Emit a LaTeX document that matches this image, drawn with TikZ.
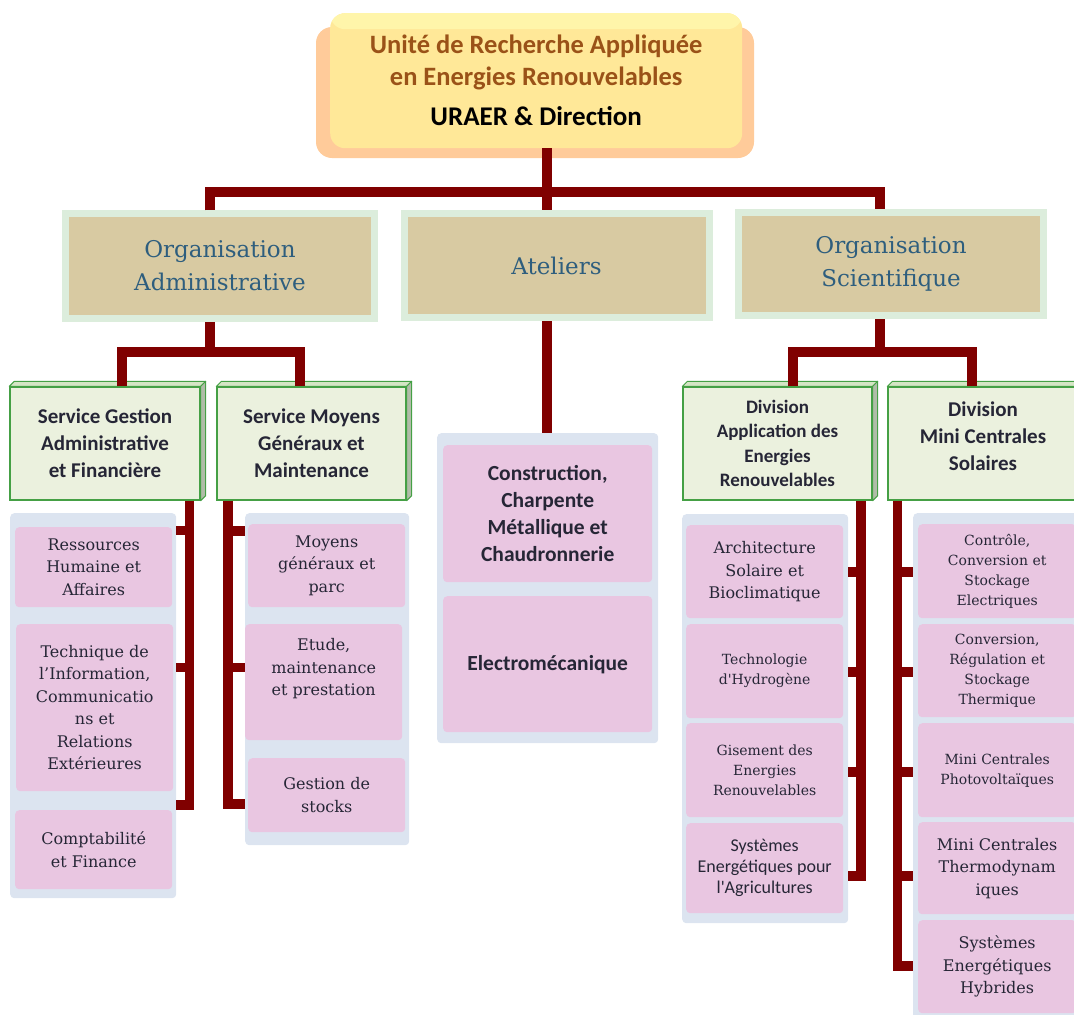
\documentclass[tikz,border=0pt]{standalone}
\usepackage{fontspec}
\setmainfont{DejaVu Serif}
\newfontfamily\carl{Carlito}
\newfontfamily\carlplain{Carlito}[Ligatures=TeXOff]
\newfontfamily\serifplain{DejaVu Serif}[Ligatures=TeXOff]
\usetikzlibrary{calc}
\definecolor{cred}{HTML}{800000}
\definecolor{tanc}{HTML}{D8CAA2}
\definecolor{framec}{HTML}{DCEDDC}
\definecolor{ltxt}{HTML}{2E5E7E}
\definecolor{gfill}{HTML}{EBF1DE}
\definecolor{gline}{HTML}{45A045}
\definecolor{gtop}{HTML}{D5E5C5}
\definecolor{gside}{HTML}{B0BCA8}
\definecolor{panelc}{HTML}{DCE4F0}
\definecolor{pinkc}{HTML}{E9C6E1}
\definecolor{peach}{HTML}{FFCB9A}
\definecolor{yellowc}{HTML}{FFE898}
\definecolor{yellowl}{HTML}{FFF5AA}
\definecolor{brownt}{HTML}{9A5218}
\definecolor{txtdark}{HTML}{262636}
\newcommand\boxfaces[1]{%
  \filldraw[fill=gtop, draw=gline, line width=1pt, line join=round] (#1.north west) -- ++(5,-5) -- ($(#1.north east)+(5,-5)$) -- (#1.north east) -- cycle;
  \filldraw[fill=gside, draw=gline, line width=1pt, line join=round] (#1.north east) -- ++(5,-5) -- ($(#1.south east)+(5,-5)$) -- (#1.south east) -- cycle;}
\begin{document}
\begin{tikzpicture}[x=1pt,y=-1pt,
  conn/.style={draw=cred, line width=10pt},
  trunk/.style={draw=cred, line width=9.5pt},
  lvtwo/.style={fill=tanc, draw=framec, line width=7pt, inner sep=0pt, align=center, text=ltxt, font=\fontsize{23}{33}\selectfont},
  lvthree/.style={fill=gfill, draw=gline, line width=1.3pt, inner sep=0pt, align=center, text=txtdark, minimum width=190, minimum height=113, font=\carl\bfseries\fontsize{21}{27}\selectfont},
  panelbox/.style={fill=panelc, rounded corners=4pt, anchor=north west, inner sep=0pt},
  itembox/.style={fill=pinkc, rounded corners=4pt, inner sep=0pt, align=center, text=txtdark, anchor=north west, font=\fontsize{16}{22.5}\selectfont},
  smallitem/.style={font=\fontsize{14}{20}\selectfont},
  boldsans/.style={font=\carl\bfseries\fontsize{21.5}{27}\selectfont}
]
\useasboundingbox (0,0) rectangle (1074,1015);
\clip (0,0) rectangle (1074,1015);

% ---- top box
\fill[peach, rounded corners=16pt] (316,27) rectangle (754,158);
\node[fill=yellowc, rounded corners=15pt, anchor=north west, minimum width=412, minimum height=135, inner sep=0pt, align=center,
  path picture={\fill[yellowl] (path picture bounding box.north west) rectangle ($(path picture bounding box.north east)+(0,16)$);},
  font=\carl\bfseries\fontsize{26.5}{32}\selectfont] (top) at (330,13)
  {\textcolor{brownt}{Unité de Recherche Appliquée}\\\textcolor{brownt}{en Energies Renouvelables}\\[8pt]{\fontsize{27}{32}\selectfont URAER \& Direction}};

% ---- level 2
\node[lvtwo, minimum width=309.5, minimum height=104.5] (orgadm) at (220,266) {Organisation\\Administrative};
\node[lvtwo, minimum width=305, minimum height=104] (atel) at (556.5,265.5) {Ateliers};
\node[lvtwo, minimum width=305.5, minimum height=103] (orgsci) at (891,264) {Organisation\\Scientifique};

% ---- level 3
\node[lvthree] (sgaf) at (105,443.5) {Service Gestion\\Administrative\\et Financière};
\node[lvthree, minimum width=189] (smgm) at (311.5,443.5) {Service Moyens\\Généraux et\\Maintenance};
\node[lvthree, minimum width=189, font=\carl\bfseries\fontsize{19}{24.5}\selectfont] (daer) at (777.5,443.5) {Division\\Application des\\Energies\\Renouvelables};
\node[lvthree] (dmcs) at (983,443.5) {Division\\Mini Centrales\\Solaires\\[-12pt]\mbox{}};
\boxfaces{sgaf}
\boxfaces{smgm}
\boxfaces{daer}
\boxfaces{dmcs}

% ---- panel A
\node[panelbox, minimum width=166, minimum height=385] (pa) at (10,513) {};
\node[itembox, minimum width=157, minimum height=80] (a1) at (15,527) {Ressources\\Humaine et\\Affaires};
\node[itembox, minimum width=157, minimum height=167] (a2) at (16,624) {Technique de\\l'Information,\\Communicatio\\ns et\\Relations\\Extérieures};
\node[itembox, minimum width=157, minimum height=79] (a3) at (15,810) {Comptabilité\\et Finance};

% ---- panel B
\node[panelbox, minimum width=164, minimum height=332] (pb) at (245,513) {};
\node[itembox, minimum width=157, minimum height=83] (b1) at (248,524) {Moyens\\généraux et\\parc};
\node[itembox, minimum width=157, minimum height=116] (b2) at (245,624) {Etude,\\maintenance\\et prestation\\[7.5pt]\mbox{}};
\node[itembox, minimum width=157, minimum height=74] (b3) at (248,758) {Gestion de\\stocks};

% ---- panel C
\node[panelbox, minimum width=221, minimum height=310] (pc) at (437,433) {};
\node[itembox, boldsans, minimum width=209, minimum height=137] (c1) at (443,445) {Construction,\\Charpente\\Métallique et\\Chaudronnerie};
\node[itembox, boldsans, minimum width=209, minimum height=136] (c2) at (443,596) {Electromécanique};

% ---- panel D
\node[panelbox, minimum width=166, minimum height=409] (pd) at (682,514) {};
\node[itembox, minimum width=157, minimum height=93] (d1) at (686,525) {Architecture\\Solaire et\\Bioclimatique};
\node[itembox, minimum width=157, minimum height=94, font=\serifplain\fontsize{14}{20}\selectfont] (d2) at (686,624) {Technologie\\d'Hydrogène};
\node[itembox, smallitem, minimum width=157, minimum height=94] (d3) at (686,723) {Gisement des\\Energies\\Renouvelables};
\node[itembox, minimum width=157, minimum height=90, font=\carlplain\fontsize{18}{21}\selectfont] (d4) at (686,823) {Systèmes\\Energétiques pour\\l'Agricultures};

% ---- panel E
\node[panelbox, minimum width=170, minimum height=510] (pe) at (913,513) {};
\node[itembox, smallitem, minimum width=158, minimum height=94] (e1) at (918,524) {Contrôle,\\Conversion et\\Stockage\\Electriques};
\node[itembox, smallitem, minimum width=158, minimum height=93] (e2) at (918,624) {Conversion,\\Régulation et\\Stockage\\Thermique};
\node[itembox, smallitem, minimum width=158, minimum height=94] (e3) at (918,723) {Mini Centrales\\Photovoltaïques};
\node[itembox, minimum width=158, minimum height=92] (e4) at (918,822) {Mini Centrales\\Thermodynam\\iques};
\node[itembox, minimum width=158, minimum height=93] (e5) at (918,920) {Systèmes\\Energétiques\\Hybrides};

% ---- connectors
\coordinate (j0) at (547,192);
\draw[conn] (top.south -| j0) -- (j0);
\draw[conn] (orgadm.north -| 210,0) |- (j0) -| (orgsci.north -| 880,0);
\draw[conn] (j0) -- (atel.north -| j0);

\coordinate (j1) at (210,352);
\draw[conn] (orgadm.south -| j1) -- (j1);
\draw[conn] (sgaf.north -| 122,0) |- (j1) -| (smgm.north -| 300,0);

\coordinate (j2) at (880,352);
\draw[conn] (orgsci.south -| j2) -- (j2);
\draw[conn] (daer.north -| 793,0) |- (j2) -| (dmcs.north -| 971.5,0);

\draw[conn] (atel.south -| 547,0) -- (pc.north -| 547,0);

% trunks
\draw[trunk] (sgaf.south -| 189.5,0) |- (pa.east |- 0,805);
\draw[trunk] (189.5,530.5) -- (pa.east |- 0,530.5);
\draw[trunk] (189.5,667.5) -- (pa.east |- 0,667.5);

\draw[trunk] (smgm.south -| 228,0) |- (pb.west |- 0,804);
\draw[trunk] (228,531) -- (pb.west |- 0,531);
\draw[trunk] (228,667.5) -- (pb.west |- 0,667.5);

\draw[trunk] (daer.south -| 861,0) |- (pd.east |- 0,876);
\foreach \yy in {572,672,772} \draw[trunk] (861,\yy) -- (pd.east |- 0,\yy);

\draw[trunk] (dmcs.south -| 897.5,0) |- (pe.west |- 0,966);
\foreach \yy in {572,672,772,876} \draw[trunk] (897.5,\yy) -- (pe.west |- 0,\yy);
\end{tikzpicture}
\end{document}
